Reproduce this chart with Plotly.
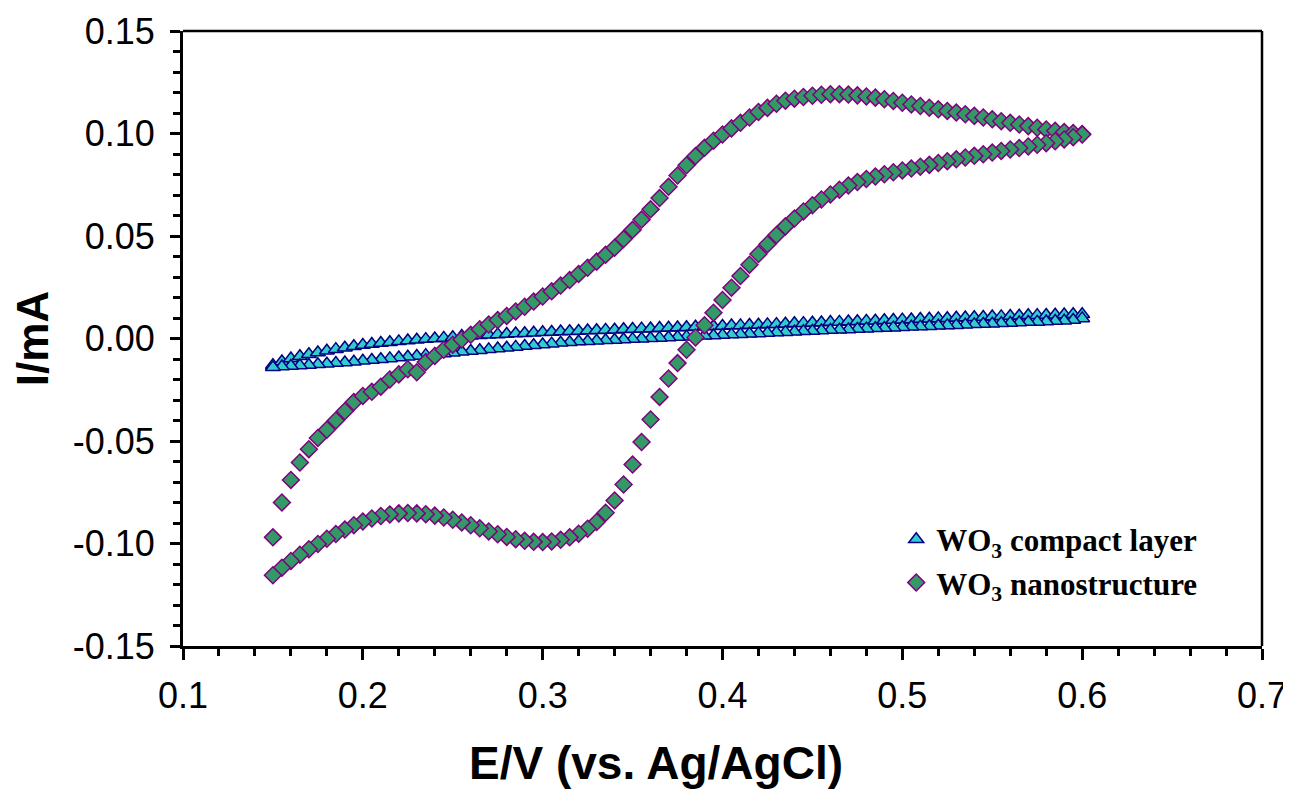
import plotly.graph_objects as go

# Potential grid (V vs Ag/AgCl), ascending
E_GRID = [0.150, 0.155, 0.160, 0.165, 0.170, 0.175, 0.180, 0.185, 0.190, 0.195,
          0.200, 0.205, 0.210, 0.215, 0.220, 0.225, 0.230, 0.235, 0.240, 0.245,
          0.250, 0.255, 0.260, 0.265, 0.270, 0.275, 0.280, 0.285, 0.290, 0.295,
          0.300, 0.305, 0.310, 0.315, 0.320, 0.325, 0.330, 0.335, 0.340, 0.345,
          0.350, 0.355, 0.360, 0.365, 0.370, 0.375, 0.380, 0.385, 0.390, 0.395,
          0.400, 0.405, 0.410, 0.415, 0.420, 0.425, 0.430, 0.435, 0.440, 0.445,
          0.450, 0.455, 0.460, 0.465, 0.470, 0.475, 0.480, 0.485, 0.490, 0.495,
          0.500, 0.505, 0.510, 0.515, 0.520, 0.525, 0.530, 0.535, 0.540, 0.545,
          0.550, 0.555, 0.560, 0.565, 0.570, 0.575, 0.580, 0.585, 0.590, 0.595,
          0.600]
E_GRID_DESC = list(reversed(E_GRID))

# WO3 nanostructure, anodic sweep (E ascending), current in mA
NANO_ANODIC = [-0.0970, -0.0800, -0.0690, -0.0605, -0.0540, -0.0485, -0.0445, -0.0400, -0.0355, -0.0310,
               -0.0280, -0.0260, -0.0235, -0.0200, -0.0175, -0.0150, -0.0165, -0.0115, -0.0085, -0.0055,
               -0.0030, -0.0005, 0.0018, 0.0045, 0.0068, 0.0090, 0.0110, 0.0132, 0.0155, 0.0180,
               0.0205, 0.0230, 0.0258, 0.0285, 0.0315, 0.0345, 0.0375, 0.0408, 0.0443, 0.0485,
               0.0530, 0.0580, 0.0630, 0.0685, 0.0740, 0.0795, 0.0845, 0.0890, 0.0930, 0.0965,
               0.0995, 0.1025, 0.1052, 0.1078, 0.1105, 0.1125, 0.1145, 0.1160, 0.1170, 0.1178,
               0.1184, 0.1189, 0.1192, 0.1192, 0.1190, 0.1186, 0.1181, 0.1175, 0.1167, 0.1159,
               0.1150, 0.1142, 0.1134, 0.1126, 0.1118, 0.1110, 0.1102, 0.1094, 0.1086, 0.1078,
               0.1069, 0.1060, 0.1052, 0.1044, 0.1036, 0.1028, 0.1020, 0.1013, 0.1007, 0.1002,
               0.0998]

# WO3 nanostructure, cathodic sweep (E descending), current in mA
NANO_CATHODIC = [0.0995, 0.0982, 0.0971, 0.0962, 0.0953, 0.0945, 0.0937, 0.0929, 0.0922, 0.0915,
                 0.0907, 0.0899, 0.0891, 0.0883, 0.0874, 0.0865, 0.0856, 0.0847, 0.0838, 0.0829,
                 0.0820, 0.0811, 0.0801, 0.0790, 0.0778, 0.0763, 0.0746, 0.0726, 0.0703, 0.0678,
                 0.0650, 0.0620, 0.0585, 0.0547, 0.0505, 0.0460, 0.0412, 0.0360, 0.0305, 0.0248,
                 0.0188, 0.0126, 0.0065, 0.0005, -0.0055, -0.0120, -0.0195, -0.0285, -0.0395, -0.0505,
                 -0.0615, -0.0712, -0.0790, -0.0850, -0.0895, -0.0928, -0.0952, -0.0970, -0.0982, -0.0990,
                 -0.0993, -0.0992, -0.0987, -0.0979, -0.0968, -0.0955, -0.0941, -0.0926, -0.0911, -0.0897,
                 -0.0884, -0.0873, -0.0864, -0.0857, -0.0853, -0.0851, -0.0853, -0.0858, -0.0866, -0.0878,
                 -0.0893, -0.0911, -0.0932, -0.0954, -0.0977, -0.1002, -0.1028, -0.1055, -0.1085, -0.1118,
                 -0.1155]

# WO3 compact layer, anodic sweep (E ascending), current in mA
COMPACT_ANODIC = [-0.0130, -0.0112, -0.0098, -0.0087, -0.0077, -0.0068, -0.0060, -0.0052, -0.0045, -0.0038,
                  -0.0032, -0.0027, -0.0022, -0.0018, -0.0014, -0.0010, -0.0006, -0.0003, 0.0000, 0.0003,
                  0.0006, 0.0012, 0.0014, 0.0016, 0.0018, 0.0020, 0.0022, 0.0024, 0.0026, 0.0028,
                  0.0030, 0.0032, 0.0034, 0.0035, 0.0037, 0.0039, 0.0040, 0.0042, 0.0043, 0.0045,
                  0.0046, 0.0048, 0.0049, 0.0051, 0.0052, 0.0054, 0.0055, 0.0057, 0.0058, 0.0060,
                  0.0061, 0.0063, 0.0064, 0.0066, 0.0067, 0.0069, 0.0070, 0.0072, 0.0074, 0.0075,
                  0.0077, 0.0078, 0.0080, 0.0081, 0.0083, 0.0084, 0.0086, 0.0087, 0.0089, 0.0090,
                  0.0092, 0.0093, 0.0095, 0.0096, 0.0098, 0.0099, 0.0101, 0.0102, 0.0104, 0.0105,
                  0.0107, 0.0108, 0.0110, 0.0111, 0.0113, 0.0114, 0.0115, 0.0116, 0.0117, 0.0118,
                  0.0118]

# WO3 compact layer, cathodic sweep (E descending), current in mA
COMPACT_CATHODIC = [0.0098, 0.0090, 0.0087, 0.0085, 0.0083, 0.0081, 0.0080, 0.0078, 0.0076, 0.0074,
                    0.0072, 0.0071, 0.0069, 0.0067, 0.0065, 0.0064, 0.0062, 0.0060, 0.0058, 0.0057,
                    0.0055, 0.0053, 0.0051, 0.0050, 0.0048, 0.0046, 0.0044, 0.0043, 0.0041, 0.0039,
                    0.0037, 0.0035, 0.0033, 0.0031, 0.0029, 0.0027, 0.0025, 0.0023, 0.0021, 0.0019,
                    0.0017, 0.0015, 0.0013, 0.0011, 0.0009, 0.0007, 0.0005, 0.0003, 0.0001, -0.0001,
                    -0.0003, -0.0005, -0.0007, -0.0009, -0.0011, -0.0013, -0.0015, -0.0018, -0.0021, -0.0025,
                    -0.0029, -0.0033, -0.0037, -0.0041, -0.0045, -0.0049, -0.0053, -0.0057, -0.0061, -0.0065,
                    -0.0069, -0.0073, -0.0077, -0.0081, -0.0085, -0.0089, -0.0093, -0.0097, -0.0101, -0.0105,
                    -0.0109, -0.0113, -0.0117, -0.0120, -0.0123, -0.0126, -0.0129, -0.0132, -0.0134, -0.0137,
                    -0.0140]

SERIES_NAMES = ["WO<sub>3</sub> compact layer", "WO<sub>3</sub> nanostructure"]
X_TICKS = [0.1, 0.2, 0.3, 0.4, 0.5, 0.6, 0.7]
Y_TICKS = [-0.15, -0.10, -0.05, 0.00, 0.05, 0.10, 0.15]
X_TITLE = "E/V (vs. Ag/AgCl)"
Y_TITLE = "I/mA"

fig = go.Figure()

fig.add_trace(go.Scatter(
    x=E_GRID + E_GRID_DESC,
    y=COMPACT_ANODIC + COMPACT_CATHODIC,
    mode="markers",
    name=SERIES_NAMES[0],
    marker=dict(symbol="triangle-up", size=13, color="#33CCCC",
                line=dict(color="#000080", width=1.5)),
))

fig.add_trace(go.Scatter(
    x=E_GRID + E_GRID_DESC,
    y=NANO_ANODIC + NANO_CATHODIC,
    mode="markers",
    name=SERIES_NAMES[1],
    marker=dict(symbol="diamond", size=13, color="#339966",
                line=dict(color="#800080", width=1.5)),
))

tick_font = dict(family="Liberation Sans, Arial, sans-serif", size=36, color="black")
title_font = dict(family="Liberation Sans, Arial, sans-serif", size=44, color="black", weight="bold")

# The page body adds an 8 px offset; the figure is sized so the plot box
# lands at x 183..1262, y 31..646 in the 1291x791 window.
fig.update_layout(
    width=1283, height=783,
    margin=dict(l=175, r=29, t=23, b=145),
    paper_bgcolor="white", plot_bgcolor="white",
    showlegend=True,
    legend=dict(
        x=0.661, y=0.217, xanchor="left", yanchor="top",
        bgcolor="rgba(0,0,0,0)",
        font=dict(family="Liberation Serif, Times New Roman, serif", size=31,
                  color="black", weight="bold"),
        itemwidth=30, tracegroupgap=0,
    ),
    xaxis=dict(
        range=[0.1, 0.7], tickvals=X_TICKS, ticktext=[f"{v:.1f}" for v in X_TICKS],
        showgrid=False, zeroline=False, automargin=False,
        showline=True, linecolor="black", linewidth=3,
        ticks="outside", ticklen=11, tickwidth=3, tickcolor="black",
        minor=dict(dtick=0.02, ticks="outside", ticklen=7, tickwidth=2.5, tickcolor="black", showgrid=False),
        tickfont=tick_font, ticklabelstandoff=5,
    ),
    yaxis=dict(
        range=[-0.15, 0.15], tickvals=Y_TICKS, ticktext=[f"{v:.2f}" for v in Y_TICKS],
        showgrid=False, zeroline=False, automargin=False,
        showline=True, linecolor="black", linewidth=3,
        ticks="outside", ticklen=10, tickwidth=3, tickcolor="black",
        minor=dict(dtick=0.01, ticks="outside", ticklen=7, tickwidth=2.5, tickcolor="black", showgrid=False),
        tickfont=tick_font, ticklabelstandoff=8,
        title=dict(text=Y_TITLE, font=title_font, standoff=16),
    ),
    annotations=[
        dict(text=X_TITLE, xref="paper", yref="paper", x=0.438, y=-0.19,
             xanchor="center", yanchor="middle", showarrow=False,
             font=dict(family="Liberation Sans, Arial, sans-serif", size=46,
                       color="black", weight="bold")),
    ],
    shapes=[
        dict(type="line", xref="paper", yref="paper", x0=0, x1=1, y0=1, y1=1,
             line=dict(color="black", width=2.5)),
        dict(type="line", xref="paper", yref="paper", x0=1, x1=1, y0=0, y1=1,
             line=dict(color="black", width=2.5)),
    ],
)

fig.write_html("out.html")
